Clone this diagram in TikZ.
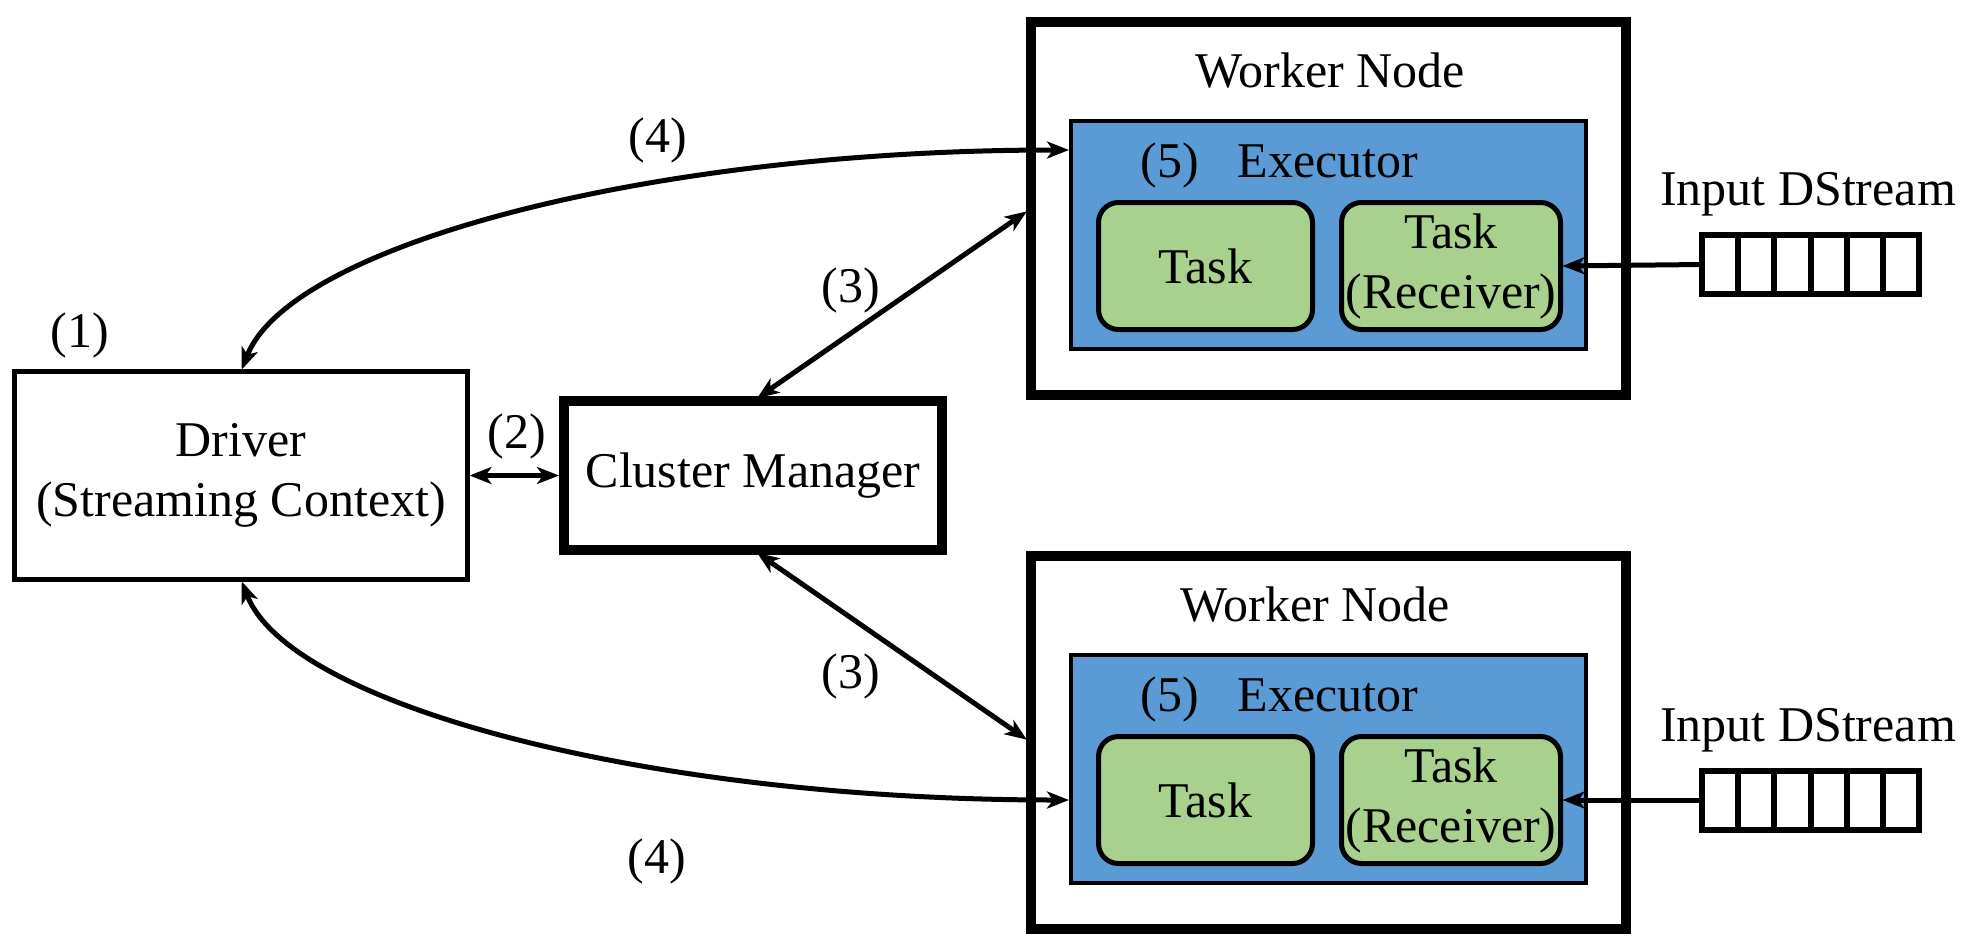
\documentclass[tikz,border=0pt]{standalone}
\usepackage{fontspec}
\setmainfont{Liberation Serif}
\usetikzlibrary{arrows.meta,calc}
\definecolor{exblue}{HTML}{5B9BD5}
\definecolor{taskgreen}{HTML}{A9D18E}
\begin{document}
\begin{tikzpicture}[x=1pt,y=-1pt,
  every node/.style={font=\fontsize{50}{60}\selectfont, inner sep=0pt, outer sep=0pt},
  box/.style={draw, rectangle, anchor=center, align=center},
  drvbox/.style={box, line width=4.5pt, minimum width=453pt, minimum height=208pt},
  cmbox/.style={box, line width=10pt, minimum width=378pt, minimum height=149pt},
  wnbox/.style={box, line width=10pt, minimum width=595pt, minimum height=373pt},
  exbox/.style={box, line width=4.5pt, fill=exblue, minimum width=515pt, minimum height=228pt},
  taskbox/.style={box, line width=5pt, fill=taskgreen, rounded corners=20pt, minimum height=127pt},
  queue/.style={box, line width=6pt, minimum width=217pt, minimum height=59pt},
  lbl/.style={anchor=center},
  biarr/.style={line width=5pt, {Stealth[length=22pt,width=17pt,inset=6pt]}-{Stealth[length=22pt,width=17pt,inset=6pt]}},
  onearr/.style={line width=5pt, -{Stealth[length=22pt,width=17pt,inset=6pt]}}
]
\fill[white] (0,0) rectangle (1970,940);
\useasboundingbox (0,0) rectangle (1970,940);

% Driver and cluster manager
\node[drvbox] (drv) at (241,475.5) {Driver\\(Streaming Context)};
\node[cmbox] (cm) at (753,475.5) {Cluster Manager};

% Top worker
\node[wnbox] (wn1) at (1328.5,208.5) {};
\node[anchor=base] (wl1) at (1330,87) {Worker Node};
\node[exbox] (ex1) at (1328.5,235) {};
\node[anchor=base] (n51) at (1170,177) {(5)};
\node[anchor=base] (el1) at (1328,177) {Executor};
\node[taskbox, minimum width=214pt] (tl1) at (1205.5,266) {Task};
\node[taskbox, minimum width=219pt] (tr1) at (1451,266) {Task\\(Receiver)};
\node[anchor=base] (in1) at (1808,205) {Input DStream};
\node[queue] (q1) at (1810.5,264.5) {};

% Bottom worker
\node[wnbox] (wn2) at (1328.5,742.5) {};
\node[anchor=base] (wl2) at (1315,621) {Worker Node};
\node[exbox] (ex2) at (1328.5,769) {};
\node[anchor=base] (n52) at (1170,711) {(5)};
\node[anchor=base] (el2) at (1328,711) {Executor};
\node[taskbox, minimum width=214pt] (tl2) at (1205.5,800) {Task};
\node[taskbox, minimum width=219pt] (tr2) at (1451,800) {Task\\(Receiver)};
\node[anchor=base] (in2) at (1808,741) {Input DStream};
\node[queue] (q2) at (1810.5,800) {};

% queue cells
\foreach \q in {q1,q2}{
  \foreach \k in {1,...,5}{
    \draw[line width=6pt] ($(\q.north west)!\k/6!(\q.north east)$) -- ($(\q.south west)!\k/6!(\q.south east)$);
  }
}

% step labels
\node[lbl] (s1) at (80,335) {(1)};
\node[lbl] (s2) at (517,436) {(2)};
\node[lbl] (s3a) at (851,290) {(3)};
\node[lbl] (s3b) at (851,676) {(3)};
\node[lbl] (s4a) at (658,140) {(4)};
\node[lbl] (s4b) at (657,861) {(4)};

% endpoints on executors
\coordinate (e1in) at (ex1.west |- 0,150);
\coordinate (e2in) at (ex2.west |- 0,800);

% connectors
\draw[biarr, shorten <=2pt, shorten >=5pt] (drv.east) -- (cm.west);
\draw[biarr, shorten <=5pt, shorten >=5pt] (cm.north) -- (wn1.west);
\draw[biarr, shorten <=5pt, shorten >=5pt] (cm.south) -- (wn2.west);
\draw[biarr, shorten <=2pt, shorten >=2pt] (drv.north) .. controls (290,245) and (650,150) .. (e1in);
\draw[biarr, shorten <=2pt, shorten >=2pt] (drv.south) .. controls (290,706) and (650,800) .. (e2in);
\draw[onearr, shorten >=2pt] (q1.west) -- (tr1.east);
\draw[onearr, shorten >=2pt] (q2.west) -- (tr2.east);
\end{tikzpicture}
\end{document}
